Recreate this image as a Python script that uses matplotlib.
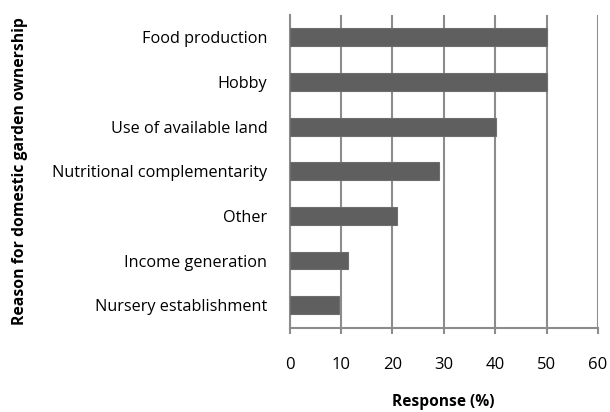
import matplotlib
matplotlib.use("Agg")
import matplotlib.pyplot as plt

categories = ["Food production", "Hobby", "Use of available land",
              "Nutritional complementarity", "Other", "Income generation",
              "Nursery establishment"]
values = [50.0, 50.0, 40.2, 29.0, 21.0, 11.3, 9.7]
xticks = [0, 10, 20, 30, 40, 50, 60]

plt.rcParams['font.family'] = ['Open Sans', 'DejaVu Sans']

fig = plt.figure(figsize=(6.1, 4.12), dpi=100)
ax = fig.add_axes([289.5/610, 1-327.5/412, (598-289.5)/610, (327.5-15)/412])

ypos = list(range(len(categories)))[::-1]
ax.barh(ypos, values, height=0.4, color="#5f5f5f", edgecolor="#6e6e6e", linewidth=0.8, zorder=3)
ax.set_ylim(-0.5, len(categories)-0.5)
ax.set_xlim(0, 60)
ax.set_xticks(xticks)
ax.set_xticklabels([str(t) for t in xticks], fontsize=12)
ax.set_yticks(ypos)
ax.set_yticklabels(categories, fontsize=11.7)
ax.xaxis.grid(True, color="#8c8c8c", linewidth=1.5, zorder=0)
ax.tick_params(axis='y', length=0, pad=16)
ax.tick_params(axis='x', length=4, width=1.5, color="#8c8c8c", pad=17)
for s in ['top', 'right']:
    ax.spines[s].set_visible(False)
ax.spines['left'].set_color("#8c8c8c")
ax.spines['left'].set_linewidth(1.5)
ax.spines['bottom'].set_color("#8c8c8c")
ax.spines['bottom'].set_linewidth(1.5)
ax.set_xlabel("Response (%)", fontsize=11.2, fontweight='bold', labelpad=15.5)
ax.set_ylabel("Reason for domestic garden ownership", fontsize=11.3, fontweight='bold')
ax.yaxis.set_label_coords(-(289.5-28)/(598-289.5), 0.5)

fig.savefig("out.png", dpi=100)
